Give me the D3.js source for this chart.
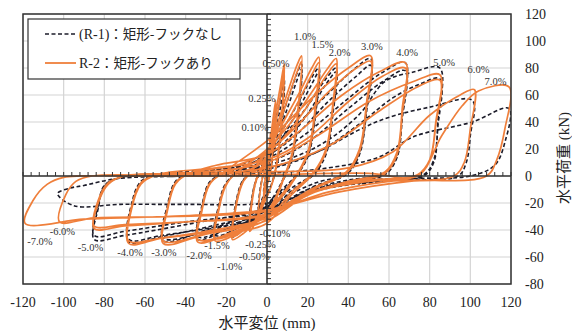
<!DOCTYPE html>
<html>
<head>
<meta charset="utf-8">
<script src="https://cdn.jsdelivr.net/npm/d3@7"></script>
<style>
  body { margin: 0; background: #fff; }
  svg { display: block; }
</style>
</head>
<body>
<div id="chart"></div>
<script>
// tick values
const xTicks = [-120, -100, -80, -60, -40, -20, 0, 20, 40, 60, 80, 100, 120];
const yTicks = [-80, -60, -40, -20, 0, 20, 40, 60, 80, 100, 120];

// R-1 (no hook) key points per cycle, in loading order: [displacement mm, load kN]
const r1Cycles = [
  [[0,0],[0.8,13],[1.7,25],[1.1,10],[0.2,-3],[-0.9,-7],[-1.7,-12],[-1.1,-4],[-0.4,1]],
  [[0.8,12],[2.6,33],[4.25,48],[3.4,25],[1.8,3],[-0.5,-9],[-2.6,-18],[-4.25,-25],[-3.4,-10],[-2.2,-1]],
  [[0,10],[3.5,34],[6.5,58],[8.5,72],[7.4,42],[5.2,12],[2,-7],[-2,-20],[-5.5,-31],[-8.5,-37],[-7.4,-18],[-5.2,-3]],
  [[-2,5],[3,26],[6.5,50],[8.5,67],[7.4,38],[5.2,10],[2,-7],[-2,-18],[-5.5,-29],[-8.5,-35],[-7.4,-16],[-5.2,-2]],
  [[-1,10],[5,34],[11,60],[15,77],[17,83],[15.6,50],[12.5,16],[8,-2],[2,-18],[-6,-31],[-12,-40],[-17,-45],[-15.6,-24],[-12.5,-6],[-9,2]],
  [[-3,5],[3,22],[10,50],[15,72],[17,79],[15.6,47],[12.5,14],[8,-3],[2,-20],[-6,-30],[-12,-38],[-17,-43],[-15.6,-22],[-12.5,-5],[-9,1]],
  [[0,15],[8,35],[16,56],[22,73],[25.5,80],[24,50],[20.5,18],[15,2],[6,-12],[-4,-26],[-14,-38],[-25.5,-46],[-23.8,-24],[-20.5,-7],[-16,1]],
  [[-4,6],[6,25],[15,48],[22,68],[25.5,77],[24,47],[20.5,16],[15,1],[6,-14],[-4,-28],[-14,-38],[-25.5,-44],[-23.8,-22],[-20.5,-6],[-16,1]],
  [[0,17],[10,33],[20,52],[29,72],[34,80],[32.5,50],[29,18],[23,2],[12,-9],[0,-24],[-16,-36],[-34,-47],[-32,-24],[-28.5,-6],[-23,1]],
  [[-6,8],[8,24],[20,46],[29,68],[34,77],[32.5,47],[29,16],[23,1],[12,-11],[0,-28],[-16,-37],[-34,-45],[-32,-22],[-28.5,-5],[-23,1]],
  [[-10,10],[0,18],[12,34],[28,58],[42,78],[51,87],[49,52],[45.5,18],[39,2],[24,-5],[8,-16],[-10,-30],[-30,-40],[-51,-48],[-49,-24],[-45,-5],[-38,2]],
  [[-15,6],[0,15],[14,30],[30,55],[44,74],[51,82],[49,48],[45.5,16],[39,1],[24,-7],[8,-20],[-10,-32],[-30,-41],[-51,-46],[-49,-22],[-45,-4],[-38,2]],
  [[-20,6],[0,13],[18,30],[38,55],[56,76],[68,84],[66.5,45],[64,15],[58,2],[40,-3],[20,-10],[0,-26],[-30,-38],[-52,-45],[-68,-49],[-66.5,-22],[-62,-5],[-54,1]],
  [[-25,5],[0,10],[20,25],[40,50],[57,70],[68,78],[66.5,42],[64,14],[58,1],[40,-4],[20,-12],[0,-30],[-30,-39],[-52,-44],[-68,-47],[-66.5,-20],[-62,-4],[-54,1]],
  [[-30,2],[0,8],[25,22],[45,45],[58,70],[72,77],[85,80],[84,40],[82,12],[77,1],[50,-3],[25,-9],[0,-24],[-40,-36],[-70,-44],[-85,-47],[-83,-24],[-80,-8],[-72,-1]],
  [[-30,2],[0,5],[25,18],[45,38],[62,58],[75,68],[85,72],[84,36],[82,10],[77,0],[50,-4],[25,-10],[0,-26],[-40,-34],[-70,-41],[-85,-44],[-83,-22],[-80,-7],[-72,-1]],
  [[-40,0],[0,6],[25,18],[45,34],[59,43],[80,51],[101,56],[100,30],[98,10],[94,0],[60,-3],[30,-9],[0,-20],[-40,-21],[-72,-21],[-95,-22],[-103,-13],[-97,-9],[-90,-7],[-74,-2],[-40,0]],
  [[0,2],[30,6],[55,14],[72,29],[101,40],[119,50],[117,25],[112,8],[100,0],[70,-2],[45,-6]]
];

// R-2 (with hook) key points per cycle, in loading order: [displacement mm, load kN]
const r2Cycles = [
  [[0,0],[0.8,16],[1.7,32],[1.1,14],[0.2,-3],[-0.9,-9],[-1.7,-15],[-1.1,-5],[-0.4,2]],
  [[0.8,14],[2.6,38],[4.25,56],[3.4,30],[1.8,4],[-0.5,-10],[-2.6,-20],[-4.25,-28],[-3.4,-12],[-2.2,-1]],
  [[0,12],[3.5,40],[6.5,66],[8.5,83],[7.4,48],[5.2,14],[2,-8],[-2,-22],[-5.5,-34],[-8.5,-41],[-7.4,-20],[-5.2,-3]],
  [[-2,6],[3,30],[6.5,58],[8.5,78],[7.4,45],[5.2,12],[2,-8],[-2,-20],[-5.5,-32],[-8.5,-38],[-7.4,-18],[-5.2,-2]],
  [[-1,12],[5,38],[11,66],[15,83],[17,89],[15.6,55],[12.5,18],[8,-2],[2,-22],[-6,-35],[-12,-43],[-17,-47],[-15.6,-26],[-12.5,-7],[-9,2]],
  [[-3,6],[3,26],[10,56],[15,78],[17,85],[15.6,52],[12.5,16],[8,-3],[2,-24],[-6,-35],[-12,-41],[-17,-45],[-15.6,-24],[-12.5,-6],[-9,1]],
  [[0,18],[8,40],[16,62],[22,80],[25.5,88],[24,55],[20.5,20],[15,2],[6,-16],[-4,-32],[-14,-42],[-25.5,-48],[-23.8,-26],[-20.5,-8],[-16,1]],
  [[-4,8],[6,30],[15,54],[22,75],[25.5,84],[24,52],[20.5,18],[15,1],[6,-18],[-4,-33],[-14,-41],[-25.5,-46],[-23.8,-24],[-20.5,-7],[-16,1]],
  [[0,20],[12,40],[22,62],[30,80],[34,87],[32.5,55],[29,20],[23,3],[12,-12],[0,-32],[-16,-41],[-34,-49],[-32,-26],[-28.5,-7],[-23,1]],
  [[-6,10],[8,28],[20,52],[29,74],[34,83],[32.5,52],[29,18],[23,2],[12,-14],[0,-35],[-16,-42],[-34,-47],[-32,-24],[-28.5,-6],[-23,1]],
  [[0,26],[10,40],[25,62],[40,80],[51,89],[49,55],[45.5,20],[39,3],[24,-8],[8,-22],[-10,-36],[-30,-43],[-51,-50],[-49,-26],[-45,-6],[-38,2]],
  [[-15,8],[0,18],[14,36],[30,62],[44,80],[51,85],[49,52],[45.5,18],[39,2],[24,-9],[8,-24],[-10,-37],[-30,-43],[-51,-48],[-49,-24],[-45,-5],[-38,2]],
  [[-25,8],[0,16],[15,32],[37,60],[55,77],[68,84],[66.5,50],[64,18],[58,3],[40,-4],[20,-13],[0,-31],[-30,-41],[-52,-46],[-68,-50],[-66.5,-24],[-62,-6],[-54,1]],
  [[-25,6],[0,12],[20,28],[40,55],[57,74],[68,80],[66.5,46],[64,16],[58,2],[40,-5],[20,-14],[0,-33],[-30,-42],[-52,-46],[-68,-48],[-66.5,-22],[-62,-5],[-54,1]],
  [[-30,3],[0,10],[25,30],[50,55],[72,70],[85,75],[83,40],[80,12],[74,1],[50,-3],[25,-10],[0,-28],[-40,-34],[-70,-37],[-85,-39],[-83,-20],[-78,-6],[-70,0]],
  [[-30,2],[0,6],[30,22],[55,48],[74,66],[85,71],[83,38],[80,11],[74,0],[50,-4],[25,-11],[0,-29],[-40,-34],[-70,-36],[-85,-37],[-83,-18],[-78,-5],[-70,0]],
  [[-40,1],[0,3],[40,6],[62,18],[80,45],[95,60],[102,64],[100,35],[97,10],[92,0],[60,-4],[30,-12],[0,-26],[-45,-30],[-85,-31],[-102,-34],[-99,-14],[-94,-4],[-86,0]],
  [[-40,0],[0,1],[50,2],[74,0],[86,30],[96,52],[104,63],[119,66],[117,35],[113,12],[108,0],[70,-4],[35,-12],[0,-25],[-50,-30],[-90,-32],[-119,-35],[-115,-18],[-108,-6],[-100,-1],[-60,0],[-20,0],[0,1]]
];

// drift annotations: [label, displacement mm, load kN]
const driftLabels = [
  ['0.10%', -5.9, 35.7], ['0.25%', -2.5, 57.9], ['0.50%', 4.4, 83.5],
  ['1.0%', 18.7, 103.5], ['1.5%', 27.3, 97.6], ['2.0%', 35.7, 91.3],
  ['3.0%', 51.6, 96], ['4.0%', 68.9, 91.6], ['5.0%', 87.1, 83.9],
  ['6.0%', 104, 79], ['7.0%', 112.4, 70.1],
  ['-0.10%', 3.9, -42.1], ['-0.25%', -3.2, -50.6], ['-0.50%', -6.2, -59.3],
  ['-1.0%', -18.4, -66.9], ['-1.5%', -24.6, -51], ['-2.0%', -33.4, -58.4],
  ['-3.0%', -50.7, -56.5], ['-4.0%', -67.4, -56.5], ['-5.0%', -86.8, -53.2],
  ['-6.0%', -100.6, -41], ['-7.0%', -111.7, -48.7]
];

const width = 572;
const height = 331;
const plotLeft = 23, plotRight = 511, plotTop = 14, plotBottom = 284;
const serif = '"Liberation Serif", "Times New Roman", serif';
const cjk = '"Noto Sans CJK JP", "Noto Sans", sans-serif';
const orange = '#ef7f3b';
const dark = '#1c1c2a';

const svg = d3.select('#chart')
    .append('svg')
    .attr('width', width)
    .attr('height', height);

const x = d3.scaleLinear().domain([-120, 120]).range([plotLeft, plotRight]);
const y = d3.scaleLinear().domain([-80, 120]).range([plotBottom, plotTop]);

// grid
svg.append('g')
    .selectAll('line')
    .data(xTicks)
    .enter()
    .append('line')
    .attr('x1', d => x(d)).attr('x2', d => x(d))
    .attr('y1', plotTop).attr('y2', plotBottom)
    .attr('stroke', '#d4d4d4')
    .attr('stroke-width', 1.2);

svg.append('g')
    .selectAll('line')
    .data(yTicks)
    .enter()
    .append('line')
    .attr('x1', plotLeft).attr('x2', plotRight)
    .attr('y1', d => y(d)).attr('y2', d => y(d))
    .attr('stroke', '#d4d4d4')
    .attr('stroke-width', 1.2);

svg.append('clipPath')
    .attr('id', 'plot-clip')
    .append('rect')
    .attr('x', plotLeft).attr('y', plotTop)
    .attr('width', plotRight - plotLeft).attr('height', plotBottom - plotTop);

const line = d3.line()
    .x(d => x(d[0]))
    .y(d => y(d[1]))
    .curve(d3.curveCatmullRom.alpha(0.5));

const curves = svg.append('g').attr('clip-path', 'url(#plot-clip)');

curves.append('path')
    .attr('d', line(r1Cycles.flat()))
    .attr('fill', 'none')
    .attr('stroke', dark)
    .attr('stroke-width', 1.6)
    .attr('stroke-dasharray', '4,2.5');

curves.append('path')
    .attr('d', line(r2Cycles.flat()))
    .attr('fill', 'none')
    .attr('stroke', orange)
    .attr('stroke-width', 1.7);

// zero axes with minor ticks
const axisColor = '#333';
svg.append('line')
    .attr('x1', plotLeft).attr('x2', plotRight)
    .attr('y1', y(0)).attr('y2', y(0))
    .attr('stroke', axisColor).attr('stroke-width', 1.5);
svg.append('line')
    .attr('x1', x(0)).attr('x2', x(0))
    .attr('y1', plotTop).attr('y2', plotBottom)
    .attr('stroke', axisColor).attr('stroke-width', 1.5);

svg.append('g')
    .selectAll('line')
    .data(d3.range(-120, 121, 4))
    .enter()
    .append('line')
    .attr('x1', d => x(d)).attr('x2', d => x(d))
    .attr('y1', y(0)).attr('y2', y(0) - 4)
    .attr('stroke', axisColor).attr('stroke-width', 1);

svg.append('g')
    .selectAll('line')
    .data(d3.range(-80, 121, 4))
    .enter()
    .append('line')
    .attr('x1', x(0)).attr('x2', x(0) + 4)
    .attr('y1', d => y(d)).attr('y2', d => y(d))
    .attr('stroke', axisColor).attr('stroke-width', 1);

// frame
svg.append('rect')
    .attr('x', plotLeft).attr('y', plotTop)
    .attr('width', plotRight - plotLeft).attr('height', plotBottom - plotTop)
    .attr('fill', 'none')
    .attr('stroke', '#333')
    .attr('stroke-width', 1.5);

// tick labels
svg.append('g')
    .selectAll('text')
    .data(xTicks)
    .enter()
    .append('text')
    .attr('x', d => x(d))
    .attr('y', 307)
    .attr('text-anchor', 'middle')
    .attr('font-family', serif)
    .attr('font-size', 14)
    .attr('fill', '#222')
    .text(d => d);

svg.append('g')
    .selectAll('text')
    .data(yTicks)
    .enter()
    .append('text')
    .attr('x', 525)
    .attr('y', d => y(d))
    .attr('dy', '0.35em')
    .attr('font-family', serif)
    .attr('font-size', 14)
    .attr('fill', '#222')
    .text(d => d);

// axis titles
const xTitle = svg.append('text')
    .attr('x', 267)
    .attr('y', 328)
    .attr('text-anchor', 'middle')
    .attr('fill', '#222');
xTitle.append('tspan').attr('font-family', cjk).attr('font-size', 15).text('水平変位');
xTitle.append('tspan').attr('font-family', serif).attr('font-size', 15).text(' (mm)');

const yTitle = svg.append('text')
    .attr('transform', 'translate(569,158) rotate(-90)')
    .attr('text-anchor', 'middle')
    .attr('fill', '#222');
yTitle.append('tspan').attr('font-family', cjk).attr('font-size', 15).text('水平荷重');
yTitle.append('tspan').attr('font-family', serif).attr('font-size', 15).text(' (kN)');

// drift annotations
svg.append('g')
    .selectAll('text')
    .data(driftLabels)
    .enter()
    .append('text')
    .attr('x', d => x(d[1]))
    .attr('y', d => y(d[2]))
    .attr('dy', '0.35em')
    .attr('text-anchor', 'middle')
    .attr('font-family', serif)
    .attr('font-size', 10.5)
    .attr('fill', '#333')
    .text(d => d[0]);

// legend
const legend = svg.append('g');
legend.append('rect')
    .attr('x', 28).attr('y', 19)
    .attr('width', 212).attr('height', 60)
    .attr('fill', '#fff')
    .attr('stroke', '#333')
    .attr('stroke-width', 1.2);

legend.append('line')
    .attr('x1', 45).attr('x2', 77)
    .attr('y1', 34).attr('y2', 34)
    .attr('stroke', dark).attr('stroke-width', 1.6)
    .attr('stroke-dasharray', '4,2.5');
legend.append('line')
    .attr('x1', 45).attr('x2', 76)
    .attr('y1', 63).attr('y2', 63)
    .attr('stroke', orange).attr('stroke-width', 1.8);

const leg1 = legend.append('text').attr('x', 79).attr('y', 39).attr('fill', '#222');
leg1.append('tspan').attr('font-family', serif).attr('font-size', 14).text('(R-1)');
leg1.append('tspan').attr('font-family', cjk).attr('font-size', 13.5).text('：矩形-フックなし');

const leg2 = legend.append('text').attr('x', 79).attr('y', 68).attr('fill', '#222');
leg2.append('tspan').attr('font-family', serif).attr('font-size', 14).text('R-2');
leg2.append('tspan').attr('font-family', cjk).attr('font-size', 13.5).text('：矩形-フックあり');
</script>
</body>
</html>
